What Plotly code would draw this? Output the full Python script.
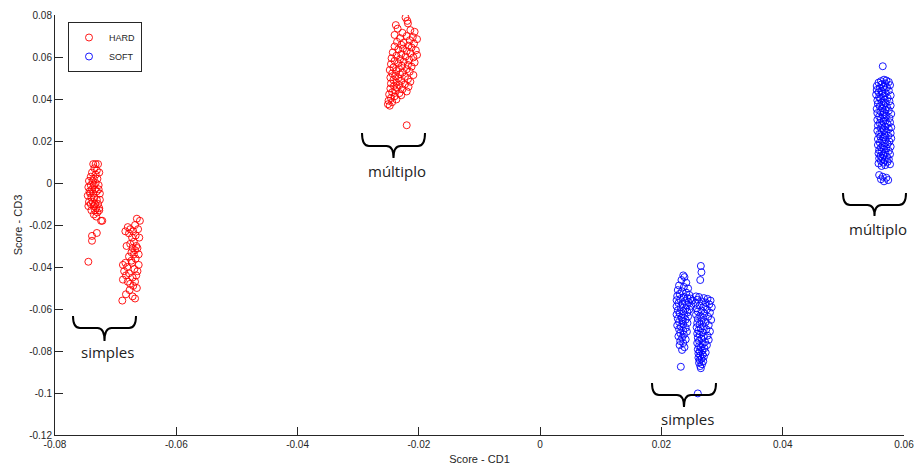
import plotly.graph_objects as go

# ---------------- data ----------------
hard_simples_a_x = [-0.0737, -0.0733, -0.0729, -0.0735, -0.0731, -0.0727, -0.0739, -0.0733, -0.0741, -0.0736,
                    -0.0730, -0.0744, -0.0738, -0.0733, -0.0741, -0.0736, -0.0728, -0.0745, -0.0739, -0.0734,
                    -0.0731, -0.0742, -0.0737, -0.0726, -0.0746, -0.0740, -0.0735, -0.0731, -0.0726, -0.0744,
                    -0.0738, -0.0734, -0.0741, -0.0729, -0.0745, -0.0736, -0.0732, -0.0727, -0.0740, -0.0734,
                    -0.0730, -0.0736, -0.0732, -0.0724, -0.0722, -0.0731, -0.0739, -0.0739, -0.0745, -0.0728,
                    -0.0727, -0.0743]
hard_simples_a_y = [0.0090, 0.0090, 0.0090, 0.0070, 0.0060, 0.0050, 0.0050, 0.0040, 0.0030, 0.0020,
                    0.0020, 0.0010, 0.0010, 0.0000, -0.0010, -0.0010, -0.0010, -0.0020, -0.0030, -0.0030,
                    -0.0040, -0.0050, -0.0050, -0.0050, -0.0060, -0.0070, -0.0070, -0.0080, -0.0080, -0.0090,
                    -0.0090, -0.0100, -0.0100, -0.0100, -0.0110, -0.0110, -0.0120, -0.0120, -0.0130, -0.0130,
                    -0.0140, -0.0150, -0.0160, -0.0180, -0.0180, -0.0238, -0.0252, -0.0275, -0.0375, -0.0030,
                    -0.0130, -0.0040]

hard_simples_b_x = [-0.0665, -0.0660, -0.0668, -0.0680, -0.0676, -0.0671, -0.0663, -0.0684, -0.0678, -0.0667,
                    -0.0673, -0.0661, -0.0670, -0.0676, -0.0666, -0.0672, -0.0668, -0.0664, -0.0674, -0.0670,
                    -0.0662, -0.0678, -0.0667, -0.0684, -0.0688, -0.0673, -0.0662, -0.0681, -0.0669, -0.0686,
                    -0.0664, -0.0678, -0.0683, -0.0672, -0.0688, -0.0680, -0.0668, -0.0676, -0.0671, -0.0665,
                    -0.0677, -0.0683, -0.0672, -0.0689, -0.0668, -0.0674, -0.0666, -0.0682]
hard_simples_b_y = [-0.0170, -0.0180, -0.0200, -0.0210, -0.0220, -0.0230, -0.0220, -0.0230, -0.0240, -0.0250,
                    -0.0260, -0.0260, -0.0280, -0.0290, -0.0300, -0.0310, -0.0320, -0.0310, -0.0330, -0.0340,
                    -0.0340, -0.0350, -0.0360, -0.0380, -0.0390, -0.0380, -0.0390, -0.0400, -0.0410, -0.0420,
                    -0.0420, -0.0430, -0.0440, -0.0450, -0.0460, -0.0470, -0.0470, -0.0480, -0.0490, -0.0500,
                    -0.0510, -0.0530, -0.0540, -0.0560, -0.0550, -0.0370, -0.0440, -0.0300]

hard_multiplo_x = [-0.0222, -0.0219, -0.0218, -0.0238, -0.0235, -0.0214, -0.0207, -0.0227, -0.0240, -0.0220,
                   -0.0210, -0.0231, -0.0203, -0.0215, -0.0236, -0.0225, -0.0208, -0.0229, -0.0217, -0.0240,
                   -0.0212, -0.0226, -0.0234, -0.0205, -0.0220, -0.0243, -0.0214, -0.0229, -0.0203, -0.0237,
                   -0.0222, -0.0209, -0.0245, -0.0231, -0.0216, -0.0240, -0.0225, -0.0207, -0.0234, -0.0246,
                   -0.0218, -0.0228, -0.0212, -0.0242, -0.0233, -0.0220, -0.0248, -0.0237, -0.0215, -0.0227,
                   -0.0244, -0.0231, -0.0209, -0.0239, -0.0223, -0.0247, -0.0234, -0.0218, -0.0242, -0.0229,
                   -0.0214, -0.0237, -0.0246, -0.0223, -0.0232, -0.0241, -0.0217, -0.0236, -0.0247, -0.0227,
                   -0.0239, -0.0220, -0.0244, -0.0232, -0.0249, -0.0229, -0.0240, -0.0246, -0.0237, -0.0250,
                   -0.0244, -0.0251, -0.0248, -0.0220]
hard_multiplo_y = [0.0788, 0.0772, 0.0760, 0.0752, 0.0735, 0.0728, 0.0720, 0.0715, 0.0705, 0.0700,
                   0.0695, 0.0690, 0.0685, 0.0680, 0.0672, 0.0668, 0.0664, 0.0658, 0.0654, 0.0650,
                   0.0645, 0.0640, 0.0636, 0.0632, 0.0628, 0.0622, 0.0618, 0.0614, 0.0610, 0.0606,
                   0.0602, 0.0598, 0.0594, 0.0590, 0.0586, 0.0582, 0.0578, 0.0574, 0.0570, 0.0566,
                   0.0562, 0.0558, 0.0554, 0.0550, 0.0546, 0.0542, 0.0538, 0.0534, 0.0530, 0.0526,
                   0.0522, 0.0518, 0.0514, 0.0510, 0.0506, 0.0502, 0.0498, 0.0494, 0.0490, 0.0486,
                   0.0482, 0.0478, 0.0474, 0.0470, 0.0466, 0.0462, 0.0458, 0.0454, 0.0450, 0.0446,
                   0.0441, 0.0436, 0.0432, 0.0428, 0.0422, 0.0418, 0.0413, 0.0405, 0.0398, 0.0392,
                   0.0385, 0.0375, 0.0368, 0.0275]

soft_simples_left_x = [0.0236, 0.0238, 0.0233, 0.0241, 0.0229, 0.0237, 0.0244, 0.0227, 0.0234, 0.0241,
                       0.0230, 0.0246, 0.0226, 0.0237, 0.0243, 0.0231, 0.0225, 0.0239, 0.0245, 0.0228,
                       0.0235, 0.0242, 0.0225, 0.0232, 0.0240, 0.0246, 0.0227, 0.0236, 0.0243, 0.0230,
                       0.0225, 0.0238, 0.0244, 0.0233, 0.0227, 0.0240, 0.0235, 0.0229, 0.0243, 0.0236,
                       0.0226, 0.0232, 0.0240, 0.0229, 0.0236, 0.0242, 0.0231, 0.0237, 0.0228, 0.0234,
                       0.0240, 0.0231, 0.0236, 0.0230, 0.0238, 0.0234, 0.0232,
                       0.0248, 0.0251, 0.0249]
soft_simples_left_y = [-0.0440, -0.0448, -0.0462, -0.0475, -0.0488, -0.0495, -0.0502, -0.0510, -0.0516, -0.0522,
                       -0.0528, -0.0533, -0.0538, -0.0543, -0.0548, -0.0553, -0.0558, -0.0562, -0.0567, -0.0572,
                       -0.0577, -0.0582, -0.0587, -0.0592, -0.0597, -0.0602, -0.0606, -0.0611, -0.0616, -0.0621,
                       -0.0626, -0.0631, -0.0636, -0.0641, -0.0646, -0.0651, -0.0656, -0.0662, -0.0667, -0.0672,
                       -0.0678, -0.0684, -0.0690, -0.0696, -0.0702, -0.0708, -0.0715, -0.0722, -0.0730, -0.0737,
                       -0.0745, -0.0753, -0.0762, -0.0772, -0.0782, -0.0795, -0.0875,
                       -0.0550, -0.0560, -0.0585]

soft_simples_right_x = [0.0265, 0.0266, 0.0264,
                        0.0257, 0.0262, 0.0270, 0.0276, 0.0259, 0.0281, 0.0267, 0.0273, 0.0256, 0.0279,
                        0.0263, 0.0270, 0.0283, 0.0258, 0.0275, 0.0266, 0.0260, 0.0280, 0.0271, 0.0257,
                        0.0264, 0.0277, 0.0269, 0.0260, 0.0282, 0.0266, 0.0273, 0.0259, 0.0263, 0.0278,
                        0.0270, 0.0258, 0.0265, 0.0274, 0.0261, 0.0280, 0.0268, 0.0259, 0.0263, 0.0276,
                        0.0270, 0.0260, 0.0266, 0.0278, 0.0262, 0.0272, 0.0259, 0.0268, 0.0275, 0.0262,
                        0.0265, 0.0271, 0.0260, 0.0267, 0.0263, 0.0273, 0.0261, 0.0268, 0.0264, 0.0270,
                        0.0261, 0.0266, 0.0263, 0.0269, 0.0262, 0.0267, 0.0264, 0.0265, 0.0260]
soft_simples_right_y = [-0.0395, -0.0425, -0.0462,
                        -0.0540, -0.0543, -0.0548, -0.0552, -0.0556, -0.0560, -0.0564, -0.0569, -0.0574, -0.0578,
                        -0.0583, -0.0588, -0.0592, -0.0597, -0.0602, -0.0607, -0.0612, -0.0617, -0.0622, -0.0627,
                        -0.0632, -0.0637, -0.0642, -0.0647, -0.0652, -0.0657, -0.0662, -0.0667, -0.0672, -0.0677,
                        -0.0682, -0.0687, -0.0692, -0.0697, -0.0702, -0.0707, -0.0712, -0.0717, -0.0722, -0.0727,
                        -0.0732, -0.0737, -0.0742, -0.0747, -0.0752, -0.0757, -0.0762, -0.0767, -0.0772, -0.0777,
                        -0.0782, -0.0787, -0.0792, -0.0797, -0.0802, -0.0807, -0.0812, -0.0817, -0.0822, -0.0827,
                        -0.0832, -0.0837, -0.0843, -0.0849, -0.0856, -0.0863, -0.0872, -0.0882, -0.1002]

soft_multiplo_x = [0.0565, 0.0567, 0.0571, 0.0562, 0.0575, 0.0558, 0.0569, 0.0563, 0.0577, 0.0555,
                   0.0566, 0.0572, 0.0560, 0.0568, 0.0555, 0.0575, 0.0563, 0.0558, 0.0570, 0.0564,
                   0.0554, 0.0578, 0.0566, 0.0559, 0.0573, 0.0561, 0.0568, 0.0556, 0.0576, 0.0563,
                   0.0570, 0.0557, 0.0566, 0.0578, 0.0560, 0.0572, 0.0564, 0.0555, 0.0569, 0.0575,
                   0.0561, 0.0567, 0.0556, 0.0579, 0.0565, 0.0571, 0.0559, 0.0568, 0.0576, 0.0562,
                   0.0556, 0.0570, 0.0566, 0.0577, 0.0560, 0.0573, 0.0564, 0.0557, 0.0569, 0.0579,
                   0.0562, 0.0575, 0.0567, 0.0556, 0.0571, 0.0563, 0.0578, 0.0559, 0.0568, 0.0574,
                   0.0561, 0.0566, 0.0579, 0.0557, 0.0570, 0.0564, 0.0576, 0.0560, 0.0568, 0.0573,
                   0.0557, 0.0565, 0.0578, 0.0562, 0.0571, 0.0567, 0.0559, 0.0575, 0.0563, 0.0569,
                   0.0558, 0.0577, 0.0566, 0.0561, 0.0572, 0.0564, 0.0559, 0.0575, 0.0568, 0.0562,
                   0.0573, 0.0566, 0.0558, 0.0577, 0.0569, 0.0563, 0.0559, 0.0565, 0.0571, 0.0562,
                   0.0574, 0.0567]
soft_multiplo_y = [0.0556, 0.0492, 0.0488, 0.0485, 0.0481, 0.0478, 0.0474, 0.0470, 0.0466, 0.0462,
                   0.0458, 0.0455, 0.0451, 0.0447, 0.0443, 0.0440, 0.0436, 0.0432, 0.0428, 0.0425,
                   0.0421, 0.0417, 0.0413, 0.0409, 0.0405, 0.0401, 0.0397, 0.0393, 0.0389, 0.0385,
                   0.0381, 0.0377, 0.0373, 0.0369, 0.0365, 0.0361, 0.0357, 0.0353, 0.0349, 0.0345,
                   0.0341, 0.0337, 0.0333, 0.0329, 0.0325, 0.0321, 0.0317, 0.0313, 0.0309, 0.0305,
                   0.0301, 0.0297, 0.0293, 0.0289, 0.0285, 0.0281, 0.0277, 0.0273, 0.0269, 0.0265,
                   0.0261, 0.0257, 0.0253, 0.0249, 0.0245, 0.0241, 0.0237, 0.0233, 0.0229, 0.0225,
                   0.0221, 0.0217, 0.0213, 0.0209, 0.0205, 0.0201, 0.0197, 0.0193, 0.0189, 0.0185,
                   0.0181, 0.0177, 0.0173, 0.0169, 0.0165, 0.0161, 0.0157, 0.0153, 0.0149, 0.0145,
                   0.0141, 0.0137, 0.0133, 0.0129, 0.0125, 0.0121, 0.0117, 0.0113, 0.0109, 0.0105,
                   0.0101, 0.0097, 0.0093, 0.0089, 0.0085, 0.0081, 0.0038, 0.0030, 0.0025, 0.0018,
                   0.0014, 0.0008]

x_tick_vals = [-0.08, -0.06, -0.04, -0.02, 0, 0.02, 0.04, 0.06]
x_tick_text = ["-0.08", "-0.06", "-0.04", "-0.02", "0", "0.02", "0.04", "0.06"]
y_tick_vals = [-0.12, -0.10, -0.08, -0.06, -0.04, -0.02, 0, 0.02, 0.04, 0.06, 0.08]
y_tick_text = ["-0.12", "-0.1", "-0.08", "-0.06", "-0.04", "-0.02", "0", "0.02", "0.04", "0.06", "0.08"]

series_names = ["HARD", "SOFT"]
group_labels = ["simples", "múltiplo", "simples", "múltiplo"]

# ---------------- figure ----------------
W, H = 917, 470
ML, MR, MT, MB = 55, 13, 15, 35
PW, PH = W - ML - MR, H - MT - MB

def px(xp):
    return (xp - ML) / PW

def py(yp):
    return (H - MB - yp) / PH

hard_x = hard_simples_a_x + hard_simples_b_x + hard_multiplo_x
hard_y = hard_simples_a_y + hard_simples_b_y + hard_multiplo_y
soft_x = soft_simples_left_x + soft_simples_right_x + soft_multiplo_x
soft_y = soft_simples_left_y + soft_simples_right_y + soft_multiplo_y

fig = go.Figure()
fig.add_trace(go.Scatter(x=hard_x, y=hard_y, mode="markers", name=series_names[0],
                         marker=dict(symbol="circle-open", size=7, color="#ff0000", line=dict(width=0.9))))
fig.add_trace(go.Scatter(x=soft_x, y=soft_y, mode="markers", name=series_names[1],
                         marker=dict(symbol="circle-open", size=7, color="#0000ff", line=dict(width=0.9))))

# braces (pixel specs: x0, x1, ytop, ymid, ytip, text center y)
braces = [
    (73, 136, 316, 328, 341, 352),
    (362, 425, 133, 146, 158, 171),
    (652, 716, 383, 395, 407, 419),
    (843, 906, 193, 205, 216, 229),
]
shapes = []
annotations = []
for (x0, x1, yt, ym, ytip, ty), lab in zip(braces, group_labels):
    xc = (x0 + x1) / 2
    r = 7
    path = (f"M {px(x0)},{py(yt)} Q {px(x0)},{py(ym)} {px(x0 + r)},{py(ym)} "
            f"L {px(xc - r)},{py(ym)} Q {px(xc)},{py(ym)} {px(xc)},{py(ytip)} "
            f"Q {px(xc)},{py(ym)} {px(xc + r)},{py(ym)} "
            f"L {px(x1 - r)},{py(ym)} Q {px(x1)},{py(ym)} {px(x1)},{py(yt)}")
    shapes.append(dict(type="path", xref="paper", yref="paper", path=path,
                       line=dict(color="black", width=2)))
    annotations.append(dict(x=px(xc + 3), y=py(ty), xref="paper", yref="paper", text=lab,
                            showarrow=False, xanchor="center", yanchor="middle",
                            font=dict(family="Open Sans", size=15, color="#222222")))

axis_common = dict(showgrid=False, zeroline=False, showline=True, linecolor="#262626", linewidth=1,
                   ticks="inside", ticklen=8, tickcolor="#262626", mirror=False, automargin=False,
                   tickfont=dict(family="Liberation Sans", size=10, color="#262626"))

fig.update_layout(
    width=W, height=H,
    margin=dict(l=ML, r=MR, t=MT, b=MB, autoexpand=False),
    paper_bgcolor="white", plot_bgcolor="white",
    showlegend=True,
    legend=dict(x=px(68), y=py(22), xanchor="left", yanchor="top",
                bgcolor="white", bordercolor="#262626", borderwidth=1,
                font=dict(family="Liberation Sans", size=9, color="#262626"),
                itemwidth=30, tracegroupgap=0),
    xaxis=dict(range=[-0.08, 0.06], tickvals=x_tick_vals, ticktext=x_tick_text,
               title=dict(text="Score - CD1", font=dict(family="Liberation Sans", size=11, color="#262626"), standoff=6),
               **axis_common),
    yaxis=dict(range=[-0.12, 0.08], tickvals=y_tick_vals, ticktext=y_tick_text,
               title=dict(text="Score - CD3", font=dict(family="Liberation Sans", size=11, color="#262626"), standoff=4),
               **axis_common),
    shapes=shapes,
    annotations=annotations,
)

fig.write_html("out.html", config={"displayModeBar": False},
               post_script="document.body.style.margin='0';document.body.style.padding='0';")
